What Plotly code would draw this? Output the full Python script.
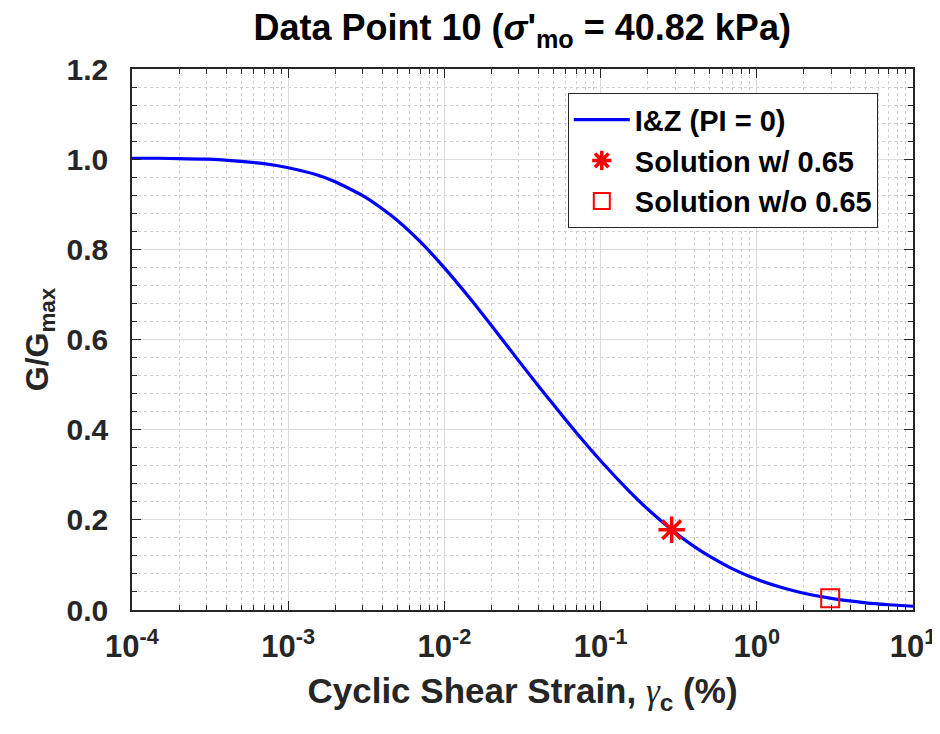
import plotly.graph_objects as go

# Curve values (strain in %, G/Gmax)
strain_pct = [1e-4, 1.5e-4, 2e-4, 3e-4, 5e-4, 7e-4, 1e-3, 1.5e-3, 2e-3, 3e-3, 4e-3, 5e-3, 7e-3,
              1e-2, 1.5e-2, 2e-2, 3e-2, 4e-2, 5e-2, 7e-2, 0.1, 0.15, 0.2, 0.3, 0.4, 0.5, 0.7,
              1.0, 1.5, 2.0, 3.0, 5.0, 7.0, 10.0]
g_ratio = [1.002, 1.002, 1.001, 1.000, 0.995, 0.990, 0.981, 0.966, 0.950, 0.919, 0.890, 0.864,
           0.817, 0.759, 0.686, 0.631, 0.552, 0.497, 0.455, 0.393, 0.331, 0.266, 0.224, 0.172,
           0.140, 0.119, 0.0913, 0.0681, 0.0481, 0.0372, 0.0258, 0.0160, 0.0117, 0.0083]

sol_with_x = [0.285]
sol_with_y = [0.178]
sol_without_x = [2.95]
sol_without_y = [0.026]

x_tickvals = [1e-4, 1e-3, 1e-2, 1e-1, 1e0, 1e1]
x_ticktext = ["10<sup>-4</sup>", "10<sup>-3</sup>", "10<sup>-2</sup>",
              "10<sup>-1</sup>", "10<sup>0</sup>", "10<sup>1</sup>"]
y_tickvals = [0.0, 0.2, 0.4, 0.6, 0.8, 1.0, 1.2]
y_ticktext = ["0.0", "0.2", "0.4", "0.6", "0.8", "1.0", "1.2"]

FONT = "Liberation Sans, Arial, sans-serif"
TXT = "#262626"
RED = "#ff0000"

fig = go.Figure()
fig.add_trace(go.Scatter(x=strain_pct, y=g_ratio, mode="lines", name="I&Z (PI = 0)",
                         line=dict(color="#0000ff", width=3.2, shape="spline", smoothing=0.5)))
fig.add_trace(go.Scatter(x=sol_with_x, y=sol_with_y, mode="markers", name="Solution w/ 0.65",
                         marker=dict(symbol="asterisk-open", size=22, color=RED,
                                     line=dict(color=RED, width=3.5))))
fig.add_trace(go.Scatter(x=sol_without_x, y=sol_without_y, mode="markers", name="Solution w/o 0.65",
                         marker=dict(symbol="square-open", size=18, color=RED,
                                     line=dict(color=RED, width=2))))

fig.update_layout(
    width=940, height=734,
    margin=dict(l=124, r=35, t=61, b=132),
    paper_bgcolor="white", plot_bgcolor="white",
    font=dict(family=FONT, size=28, color=TXT, weight="bold"),
    title=dict(text="Data Point 10 (<i>σ</i>'<sub>mo</sub> = 40.82 kPa)",
               x=0.547, xanchor="center", xref="container",
               y=0.973, yanchor="middle", yref="container",
               font=dict(size=36, color="#000000", family=FONT, weight="bold")),
    legend=dict(x=0.558, y=0.955, xanchor="left", yanchor="top",
                bgcolor="white", bordercolor=TXT, borderwidth=1,
                font=dict(size=29, color="#000000", family=FONT, weight="bold"),
                itemsizing="trace", itemwidth=56, tracegroupgap=0),
    showlegend=True,
)

fig.update_xaxes(
    type="log", range=[-4, 1], automargin=False,
    tickvals=x_tickvals, ticktext=x_ticktext,
    tickfont=dict(size=31, color=TXT, family=FONT, weight="bold"),
    ticks="inside", ticklen=9, tickwidth=1, tickcolor=TXT,
    showline=True, linecolor=TXT, linewidth=1.5, mirror="ticks",
    showgrid=True, gridcolor="#dcdcdc", gridwidth=1,
    zeroline=False,
    minor=dict(ticks="inside", ticklen=5, tickcolor=TXT, showgrid=True,
               gridcolor="#d0d0d0", griddash="dot", gridwidth=1, dtick="D1"),
    title=dict(text="Cyclic Shear Strain, <span style='font-family:Liberation Serif, Times New Roman, serif;font-weight:normal'><i>γ</i></span><sub>c</sub> (%)",
               font=dict(size=35, color=TXT, family=FONT, weight="bold"), standoff=16),
    ticklabelstandoff=8,
)
fig.update_yaxes(
    range=[0, 1.2], automargin=False,
    tickvals=y_tickvals, ticktext=y_ticktext,
    tickfont=dict(size=30, color=TXT, family=FONT, weight="bold"),
    ticks="inside", ticklen=9, tickwidth=1, tickcolor=TXT,
    showline=True, linecolor=TXT, linewidth=1.5, mirror="ticks",
    showgrid=True, gridcolor="#dcdcdc", gridwidth=1,
    zeroline=False,
    minor=dict(ticks="inside", ticklen=5, tickcolor=TXT, showgrid=True,
               gridcolor="#d0d0d0", griddash="dot", gridwidth=1, dtick=0.04),
    title=dict(text="G/G<sub>max</sub>", font=dict(size=32, color=TXT, family=FONT, weight="bold"),
               standoff=8),
    ticklabelstandoff=16,
)

fig.write_html("out.html")
